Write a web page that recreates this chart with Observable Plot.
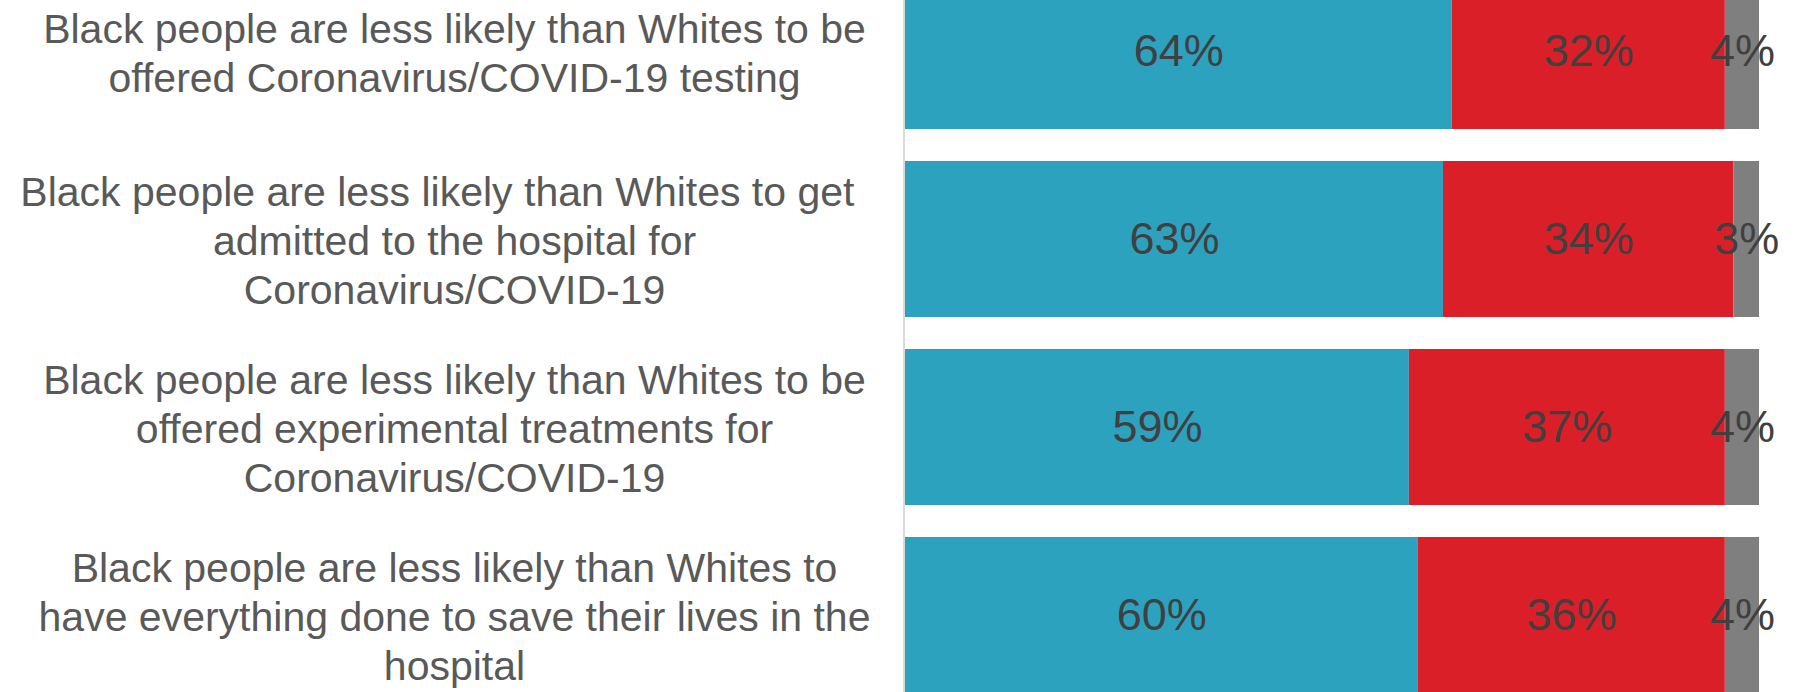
<!DOCTYPE html>
<html>
<head>
<meta charset="utf-8">
<script src="https://cdn.jsdelivr.net/npm/d3@7"></script>
<script src="https://cdn.jsdelivr.net/npm/@observablehq/plot@0.6"></script>
<style>
  html, body { margin: 0; padding: 0; background: #ffffff; }
  svg { display: block; }
</style>
</head>
<body>
<script>
const categories = [
  "Black people are less likely than Whites to be\noffered Coronavirus/COVID-19 testing",
  "Black people are less likely than Whites to get\u00a0\u00a0\u00a0\nadmitted to the hospital for\nCoronavirus/COVID-19",
  "Black people are less likely than Whites to be\noffered experimental treatments for\nCoronavirus/COVID-19",
  "Black people are less likely than Whites to\nhave everything done to save their lives in the\nhospital"
];
const series = ["Agree", "Disagree", "Not sure"];
const agree = [64, 63, 59, 60];
const disagree = [32, 34, 37, 36];
const notSure = [4, 3, 4, 4];
const colors = ["#2DA2BF", "#DA1F28", "#7F7F7F"];

const seriesValues = [agree, disagree, notSure];
const rows = [];
categories.forEach((c, i) => {
  series.forEach((s, j) => {
    rows.push({category: c, series: s, value: seriesValues[j][i]});
  });
});

const chart = Plot.plot({
  width: 1800,
  height: 692,
  marginLeft: 905,
  marginRight: 41,
  marginTop: 0,
  marginBottom: 0,
  style: {fontFamily: "'Liberation Sans', Arial, sans-serif", background: "#ffffff"},
  x: {domain: [0, 100], axis: null},
  y: {domain: categories, range: [-43, 709], paddingInner: 0.17, paddingOuter: 0.085, axis: null},
  color: {domain: series, range: colors},
  marks: [
    Plot.barX(rows, Plot.stackX({x: "value", y: "category", fill: "series", order: series})),
    Plot.text(rows, Plot.stackX({
      x: "value", y: "category", z: "series", order: series,
      text: d => d.value + "%", fill: "#404040", fontSize: 45
    })),
    Plot.text(categories, {
      y: d => d, text: d => d, frameAnchor: "left", dx: -451,
      textAnchor: "middle", lineAnchor: "middle", lineHeight: 1.19,
      fontSize: 41, fill: "#595959"
    }),
    Plot.ruleX([0], {stroke: "#D9D9D9", strokeWidth: 2, dx: -1.5})
  ]
});
document.body.appendChild(chart);
</script>
</body>
</html>
